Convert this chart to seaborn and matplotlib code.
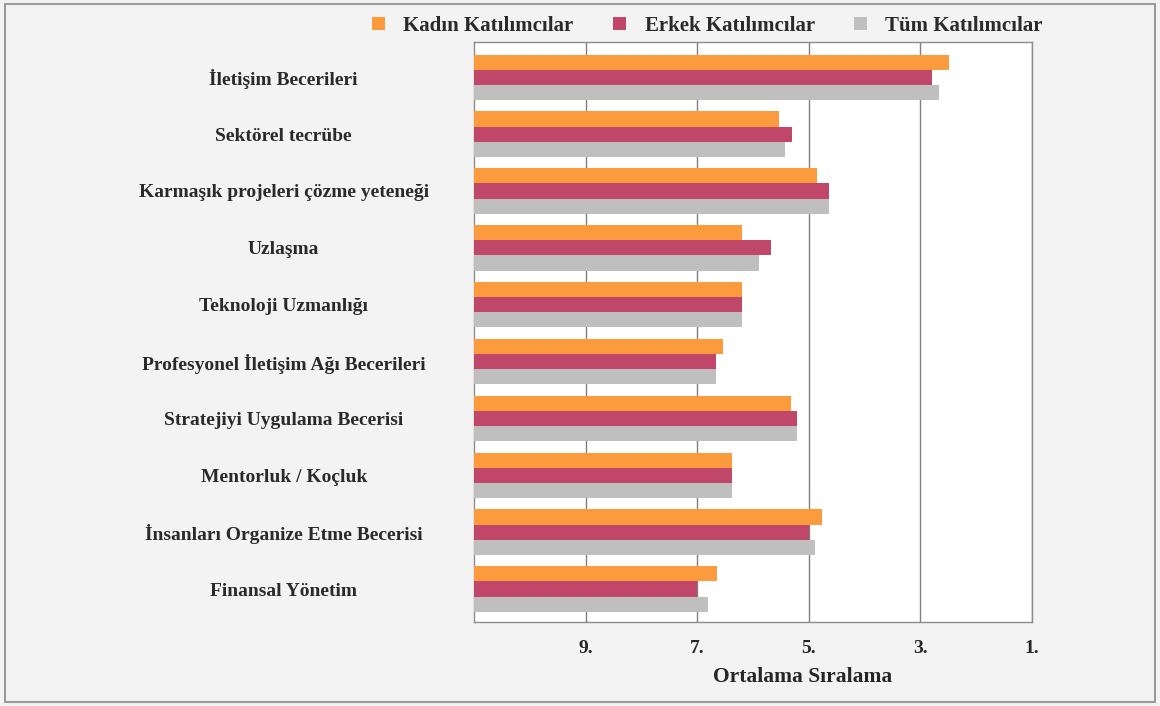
import pandas as pd
import matplotlib.pyplot as plt
import seaborn as sns

# --- Data (mean ranking, 1 = best) ---
skills = [
    "İletişim Becerileri",
    "Sektörel tecrübe",
    "Karmaşık projeleri çözme yeteneği",
    "Uzlaşma",
    "Teknoloji Uzmanlığı",
    "Profesyonel İletişim Ağı Becerileri",
    "Stratejiyi Uygulama Becerisi",
    "Mentorluk / Koçluk",
    "İnsanları Organize Etme Becerisi",
    "Finansal Yönetim",
]
groups = ["Kadın Katılımcılar", "Erkek Katılımcılar", "Tüm Katılımcılar"]
kadin = [2.48, 5.53, 4.85, 6.19, 6.19, 6.54, 5.32, 6.37, 4.77, 6.65]
erkek = [2.79, 5.30, 4.64, 5.67, 6.19, 6.67, 5.21, 6.37, 5.00, 7.00]
tum = [2.67, 5.42, 4.64, 5.90, 6.19, 6.66, 5.21, 6.37, 4.88, 6.81]
rank_ticks = [9, 7, 5, 3, 1]
worst_rank = 11  # bars grow from the left edge (rank 11) towards rank 1

colors = ["#fb9b3e", "#c0466a", "#bfbfbf"]

# --- Build long table ---
records = []
for g, vals in zip(groups, [kadin, erkek, tum]):
    for s, v in zip(skills, vals):
        records.append({"skill": s, "group": g, "rank": v})
df = pd.DataFrame(records)
df["bar"] = worst_rank - df["rank"]

# --- Plot ---
sns.set_style("white")
plt.rcParams["font.family"] = ["Liberation Serif", "DejaVu Serif"]

fig = plt.figure(figsize=(11.6, 7.06), dpi=100, facecolor="#f3f3f3")
ax = fig.add_axes([474 / 1160, 1 - 622 / 706, (1032 - 474) / 1160, (622 - 42) / 706])
ax.set_facecolor("white")

sns.barplot(data=df, x="bar", y="skill", hue="group", order=skills,
            hue_order=groups, palette=colors, orient="h", width=0.8,
            saturation=1, linewidth=0, ax=ax, zorder=3)

ax.set_xlim(0, worst_rank - 1)
ax.set_ylim(9.58, -0.62)
ax.set_xticks([worst_rank - r for r in rank_ticks])
ax.set_xticklabels([f"{r}." for r in rank_ticks], fontsize=14, fontweight="bold")
ax.tick_params(axis="x", length=0, pad=13)
ax.tick_params(axis="y", length=0, pad=137)
for lbl in ax.get_yticklabels():
    lbl.set_horizontalalignment("center")
    lbl.set_fontsize(14)
    lbl.set_fontweight("bold")
    lbl.set_color("#2a2a2a")

ax.grid(axis="x", color="#7f7f7f", linewidth=1, zorder=0)
ax.grid(axis="y", visible=False)
for sp in ax.spines.values():
    sp.set_color("#8c8c8c")
    sp.set_linewidth(1)

ax.set_ylabel("")
ax.set_xlabel("Ortalama Sıralama", fontsize=15.5, fontweight="bold", labelpad=6)
ax.xaxis.set_label_coords((803 - 474) / 558, -0.078)

leg = ax.legend(loc="center", bbox_to_anchor=(0.61, 0.963), bbox_transform=fig.transFigure,
                ncol=3, frameon=False, handlelength=0.6, handleheight=0.6,
                columnspacing=1.9, handletextpad=0.9,
                prop={"size": 15, "weight": "bold"})
for t in leg.get_texts():
    t.set_color("#2a2a2a")

fig.patches.append(plt.Rectangle((0.004, 0.006), 0.992, 0.988, transform=fig.transFigure,
                                 fill=False, edgecolor="#9a9a9a", linewidth=1.5))

fig.savefig("out.png", dpi=100, facecolor=fig.get_facecolor())
